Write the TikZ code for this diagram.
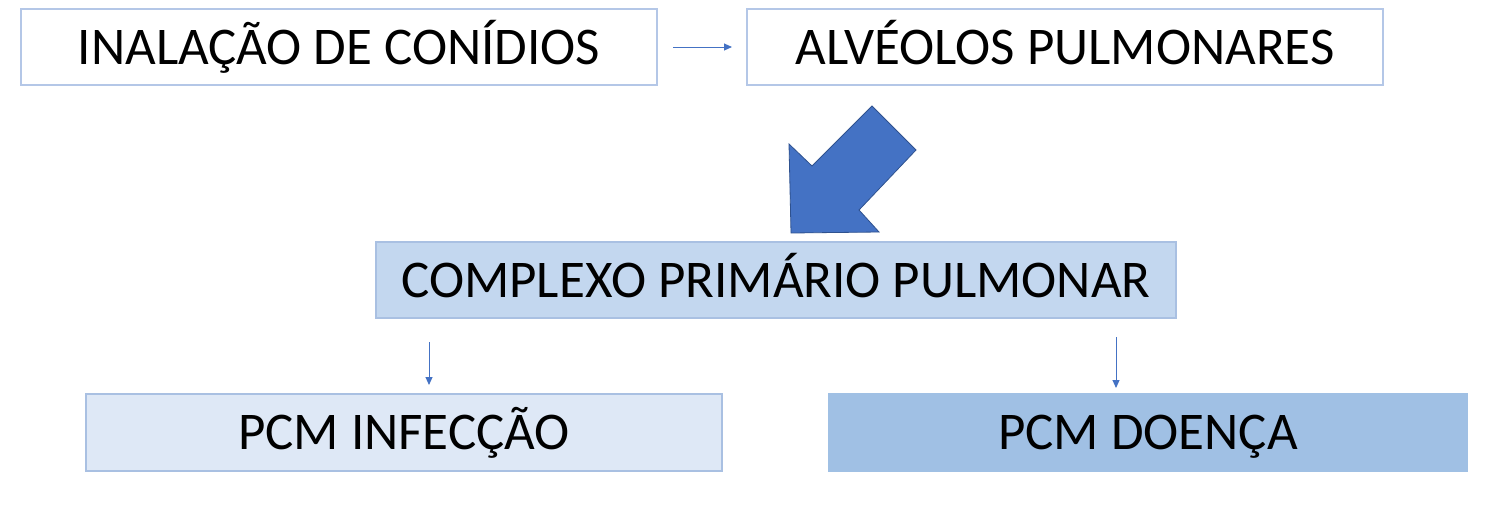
\documentclass[tikz,border=0pt]{standalone}
\usepackage{fontspec}
\setmainfont{Carlito}
\usetikzlibrary{arrows.meta}
\definecolor{edgeA}{HTML}{B4C7E7}
\definecolor{edgeB}{HTML}{A9C0E2}
\definecolor{fillC}{HTML}{C3D7EF}
\definecolor{fillI}{HTML}{DEE8F6}
\definecolor{fillD}{HTML}{A0C0E4}
\definecolor{arrowblue}{HTML}{4472C4}
\definecolor{arrowedge}{HTML}{2F528F}
\tikzset{
  box/.style={draw=edgeA, line width=1.2pt, minimum height=76pt, inner sep=0pt, text=black,
    font=\fontsize{53}{60}\selectfont, text height=39.5pt, text depth=5pt},
  topbox/.style={box, fill=white, minimum width=636pt},
  lowbox/.style={box, draw=edgeB, minimum height=77pt},
  thin arrow/.style={draw=arrowblue, line width=1pt, -{Triangle[length=8pt,width=7pt]}},
  big arrow/.style={fill=arrowblue, draw=arrowedge, line width=0.8pt, line join=miter}
}
\begin{document}
\begin{tikzpicture}[x=1pt,y=-1pt]
\useasboundingbox (0,0) rectangle (1511,530);
\fill[white] (0,0) rectangle (1511,530);
\node[topbox] (inal) at (339,47) {INALAÇÃO DE CONÍDIOS};
\node[topbox] (alv) at (1065,47) {ALVÉOLOS PULMONARES};
\node[lowbox, fill=fillC, minimum width=800pt, minimum height=76pt] (comp) at (776,280) {COMPLEXO PRIMÁRIO PULMONAR};
\node[lowbox, fill=fillI, minimum width=636pt] (inf) at (404,432.5) {PCM INFECÇÃO};
\node[lowbox, fill=fillD, draw=fillD, minimum width=638pt] (doe) at (1148,432.5) {PCM DOENÇA};
\coordinate (a1s) at (673,47);
\coordinate (a1e) at (732,47);
\coordinate (a2s) at (429,342);
\coordinate (a2e) at (429,385);
\coordinate (a3s) at (1116,337);
\coordinate (a3e) at (1116,388);
\draw[thin arrow] (a1s) -- (a1e);
\draw[thin arrow] (a2s) -- (a2e);
\draw[thin arrow] (a3s) -- (a3e);
\draw[big arrow] (872,106) -- (916,150) -- (859,210) -- (879,232) -- (791,233) -- (789,144) -- (812,166) -- cycle;
\end{tikzpicture}
\end{document}
